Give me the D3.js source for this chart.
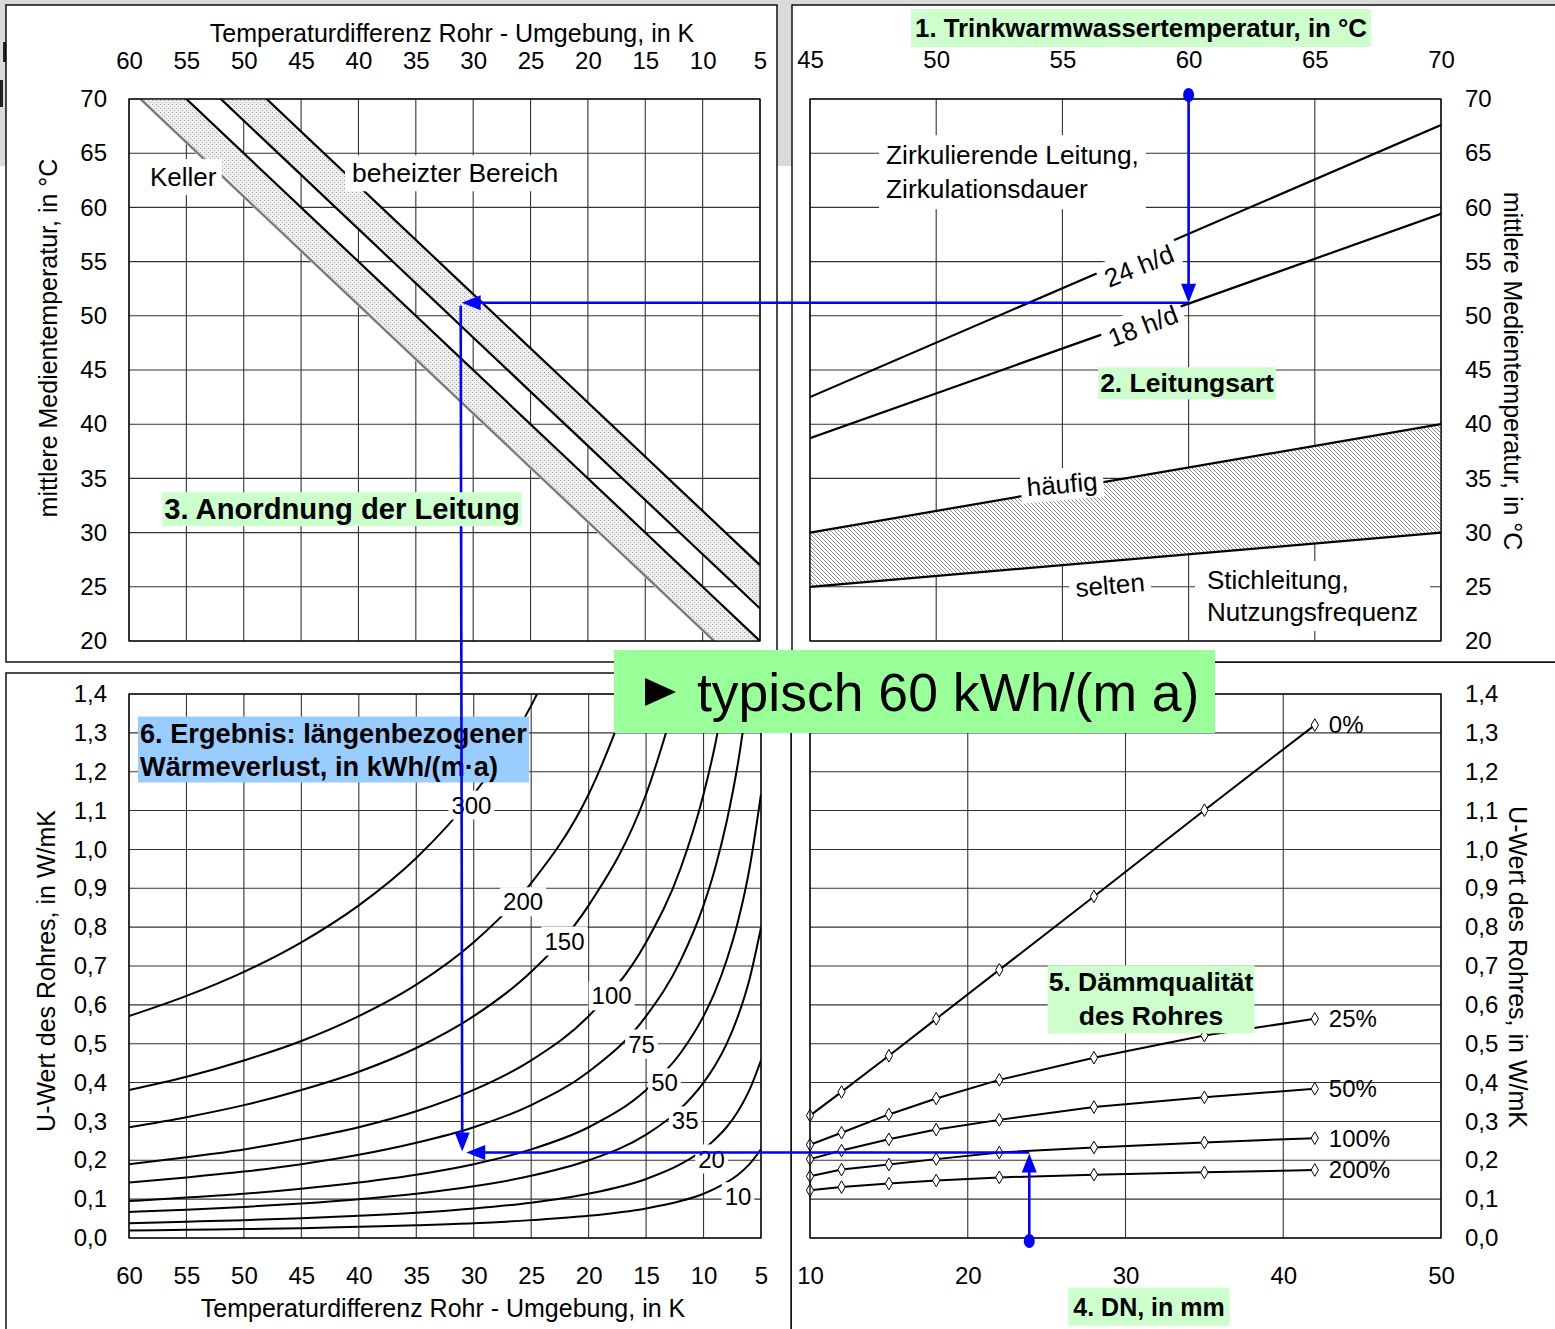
<!DOCTYPE html>
<html>
<head>
<meta charset="utf-8">
<script src="https://cdn.jsdelivr.net/npm/d3@7"></script>
<style>
  html, body { margin: 0; padding: 0; background: #fff; }
  svg { display: block; }
</style>
</head>
<body>
<svg id="chart" width="1555" height="1329"></svg>
<script>
// ---------- axis ticks ----------
const dtTicks = [60, 55, 50, 45, 40, 35, 30, 25, 20, 15, 10, 5];
const tempTicks = [20, 25, 30, 35, 40, 45, 50, 55, 60, 65, 70];
const twwTicks = [45, 50, 55, 60, 65, 70];
const uTicks = [0, 0.1, 0.2, 0.3, 0.4, 0.5, 0.6, 0.7, 0.8, 0.9, 1.0, 1.1, 1.2, 1.3, 1.4];
const dnTicks = [10, 20, 30, 40, 50];

// ---------- 3. Anordnung: lines of constant ambient temperature [ΔT, mean medium temp] ----------
const kellerLow   = [[60, 71], [5, 16]];
const kellerHigh  = [[60, 75], [5, 20]];
const beheiztLow  = [[60, 78], [5, 23]];
const beheiztHigh = [[60, 82], [5, 27]];

// ---------- 2. Leitungsart: [hot water temp, mean medium temp] ----------
const zirk24 = [[45, 42.5], [70, 67.6]];
const zirk18 = [[45, 38.7], [70, 59.4]];
const stichHaeufig = [[45, 30], [70, 40]];
const stichSelten  = [[45, 25], [70, 30]];

// ---------- 6. heat loss curves: U value over ΔT ----------
const lossDT = [60, 55, 50, 45, 40, 35, 30, 25, 20, 15, 12, 10, 9, 8, 7, 6, 5];
const loss300 = [0.571, 0.623, 0.685, 0.761, 0.856, 0.978, 1.142, 1.370, 1.712];
const loss200 = [0.381, 0.415, 0.457, 0.507, 0.571, 0.652, 0.761, 0.913, 1.142, 1.522];
const loss150 = [0.285, 0.311, 0.342, 0.381, 0.428, 0.489, 0.571, 0.685, 0.856, 1.142, 1.427];
const loss100 = [0.190, 0.208, 0.228, 0.254, 0.285, 0.326, 0.381, 0.457, 0.571, 0.761, 0.951, 1.142, 1.268, 1.427];
const loss75  = [0.143, 0.156, 0.171, 0.190, 0.214, 0.245, 0.285, 0.342, 0.428, 0.571, 0.714, 0.856, 0.951, 1.070, 1.223, 1.427];
const loss50  = [0.095, 0.104, 0.114, 0.127, 0.143, 0.163, 0.190, 0.228, 0.285, 0.381, 0.476, 0.571, 0.634, 0.714, 0.815, 0.951, 1.142];
const loss35  = [0.067, 0.073, 0.080, 0.089, 0.100, 0.114, 0.133, 0.160, 0.200, 0.266, 0.333, 0.400, 0.444, 0.499, 0.571, 0.666, 0.799];
const loss20  = [0.038, 0.042, 0.046, 0.051, 0.057, 0.065, 0.076, 0.091, 0.114, 0.152, 0.190, 0.228, 0.254, 0.285, 0.326, 0.381, 0.457];
const loss10  = [0.019, 0.021, 0.023, 0.025, 0.029, 0.033, 0.038, 0.046, 0.057, 0.076, 0.095, 0.114, 0.127, 0.143, 0.163, 0.190, 0.228];
const lossNames = ["300", "200", "150", "100", "75", "50", "35", "20", "10"];
// label anchor of each curve [ΔT, U]
const lossLabelAt = [[30.2, 1.114], [25.7, 0.865], [22.1, 0.764], [18.0, 0.623], [15.4, 0.499],
                     [13.4, 0.399], [11.6, 0.301], [9.3, 0.203], [7.0, 0.106]];

// ---------- 5. insulation quality: U value over DN ----------
const dnValues = [10, 12, 15, 18, 22, 28, 35, 42];
const ins0   = [0.315, 0.376, 0.469, 0.564, 0.690, 0.879, 1.101, 1.320];
const ins25  = [0.240, 0.271, 0.318, 0.359, 0.407, 0.464, 0.521, 0.564];
const ins50  = [0.203, 0.225, 0.254, 0.279, 0.304, 0.337, 0.362, 0.384];
const ins100 = [0.159, 0.176, 0.189, 0.203, 0.220, 0.233, 0.246, 0.257];
const ins200 = [0.123, 0.131, 0.140, 0.148, 0.156, 0.163, 0.169, 0.175];
const insNames = ["0%", "25%", "50%", "100%", "200%"];

// ---------- worked example ----------
const exTww = 60, exTmed = 51.2, exDT = 31, exU = 0.22, exDN = 23.9;

// ================= drawing =================
const FONT = '"Liberation Sans", Arial, Helvetica, sans-serif';
const BLUE = "#0000ff";
const svg = d3.select("#chart").attr("font-family", FONT);

// scales
const xTL = d3.scaleLinear().domain([60, 5]).range([129, 760]);
const yTL = d3.scaleLinear().domain([20, 70]).range([641, 99]);
const xTR = d3.scaleLinear().domain([45, 70]).range([810, 1441]);
const yTR = d3.scaleLinear().domain([20, 70]).range([641, 99]);
const xBL = d3.scaleLinear().domain([60, 5]).range([129, 761]);
const yBL = d3.scaleLinear().domain([0, 1.4]).range([1238, 694]);
const xBR = d3.scaleLinear().domain([10, 50]).range([810, 1441]);
const yBR = d3.scaleLinear().domain([0, 1.4]).range([1238, 694]);

const comma = d => d3.format(".1f")(d).replace(".", ",");

// patterns
const defs = svg.append("defs");
const dots = defs.append("pattern").attr("id", "dots").attr("patternUnits", "userSpaceOnUse")
  .attr("width", 4).attr("height", 4);
dots.append("rect").attr("width", 4).attr("height", 4).attr("fill", "#eeeeee");
dots.append("rect").attr("x", 0).attr("y", 0).attr("width", 1).attr("height", 1).attr("fill", "#9a9a9a");
dots.append("rect").attr("x", 2).attr("y", 2).attr("width", 1).attr("height", 1).attr("fill", "#b0b0b0");
const hatch = defs.append("pattern").attr("id", "hatch").attr("patternUnits", "userSpaceOnUse")
  .attr("width", 4).attr("height", 4);
hatch.append("rect").attr("width", 4).attr("height", 4).attr("fill", "#ffffff");
hatch.append("path").attr("d", "M-1,-1 L5,5 M3,-1 L5,1 M-1,3 L1,5")
  .attr("stroke", "#7a7a7a").attr("stroke-width", 0.85);

function clip(id, x0, y0, x1, y1) {
  defs.append("clipPath").attr("id", id).append("rect")
    .attr("x", x0).attr("y", y0).attr("width", x1 - x0).attr("height", y1 - y0);
}
clip("cTL", 129, 99, 760, 641);
clip("cTR", 810, 99, 1441, 641);
clip("cBL", 129, 694, 761, 1238);
clip("cBR", 810, 694, 1441, 1238);

// background & panels
svg.append("rect").attr("width", 1555).attr("height", 1329).attr("fill", "#ffffff");
svg.append("rect").attr("width", 1555).attr("height", 166).attr("fill", "#dadada");
svg.append("rect").attr("x", 3).attr("y", 42).attr("width", 3).attr("height", 20).attr("fill", "#222");
svg.append("rect").attr("x", 0).attr("y", 80).attr("width", 3).attr("height", 27).attr("fill", "#222");

const panel = (x, y, w, h) => svg.append("rect").attr("x", x).attr("y", y).attr("width", w).attr("height", h)
  .attr("fill", "#fff").attr("stroke", "#000").attr("stroke-width", 1.4);
panel(791, 662, 800, 700);
panel(6, 673, 785, 700);
panel(6, 5, 771, 657);
panel(792, 5, 800, 657);

// plot areas with grids
function plotArea(xs, ys, xt, yt) {
  const [x0, x1] = d3.extent(xs.range()), [y1, y0] = [ys.range()[0], ys.range()[1]];
  const g = svg.append("g");
  g.append("rect").attr("x", x0).attr("y", y0).attr("width", x1 - x0).attr("height", y1 - y0).attr("fill", "#fff");
  g.selectAll(".vg").data(xt).join("line")
    .attr("x1", d => xs(d)).attr("x2", d => xs(d)).attr("y1", y0).attr("y2", y1)
    .attr("stroke", "#333").attr("stroke-width", 1.1);
  g.selectAll(".hg").data(yt).join("line")
    .attr("y1", d => ys(d)).attr("y2", d => ys(d)).attr("x1", x0).attr("x2", x1)
    .attr("stroke", "#333").attr("stroke-width", 1.1);
  return g;
}
plotArea(xTL, yTL, dtTicks, tempTicks);
plotArea(xTR, yTR, twwTicks, tempTicks);
plotArea(xBL, yBL, dtTicks, uTicks);
plotArea(xBR, yBR, dnTicks, uTicks);

// ---- top left: bands of ambient temperature ----
const gTL = svg.append("g").attr("clip-path", "url(#cTL)");
const lineTL = d3.line().x(d => xTL(d[0])).y(d => yTL(d[1]));
const band = (lo, hi) => lo.concat(hi.slice().reverse());
gTL.append("path").attr("d", lineTL(band(kellerLow, kellerHigh)) + "Z").attr("fill", "url(#dots)");
gTL.append("path").attr("d", lineTL(band(beheiztLow, beheiztHigh)) + "Z").attr("fill", "url(#dots)");
gTL.append("path").attr("d", lineTL(kellerLow)).attr("fill", "none").attr("stroke", "#c8c8c8").attr("stroke-width", 3.2);
gTL.append("path").attr("d", lineTL(kellerLow)).attr("fill", "none").attr("stroke", "#6a6a6a").attr("stroke-width", 1.6);
[kellerHigh, beheiztLow, beheiztHigh].forEach(l =>
  gTL.append("path").attr("d", lineTL(l)).attr("fill", "none").attr("stroke", "#000").attr("stroke-width", 2.2));

// ---- top right: line types ----
const gTR = svg.append("g").attr("clip-path", "url(#cTR)");
const lineTR = d3.line().x(d => xTR(d[0])).y(d => yTR(d[1]));
gTR.append("path").attr("d", lineTR(band(stichSelten, stichHaeufig)) + "Z").attr("fill", "url(#hatch)");
[zirk24, zirk18, stichHaeufig, stichSelten].forEach(l =>
  gTR.append("path").attr("d", lineTR(l)).attr("fill", "none").attr("stroke", "#000").attr("stroke-width", 2.2));

// ---- bottom left: heat loss curves ----
const gBL = svg.append("g").attr("clip-path", "url(#cBL)");
const lossSeries = [loss300, loss200, loss150, loss100, loss75, loss50, loss35, loss20, loss10];
const lineBL = d3.line().x(d => xBL(d[0])).y(d => yBL(d[1])).curve(d3.curveMonotoneX);
lossSeries.forEach(s => {
  const pts = s.map((u, i) => [lossDT[i], u]);
  gBL.append("path").attr("d", lineBL(pts)).attr("fill", "none").attr("stroke", "#000").attr("stroke-width", 2);
});

// ---- bottom right: insulation quality ----
const gBR = svg.append("g");
const insSeries = [ins0, ins25, ins50, ins100, ins200];
const lineBR = d3.line().x(d => xBR(d[0])).y(d => yBR(d[1]));
const diamond = d3.symbol().type(d3.symbolDiamond).size(46);
insSeries.forEach((s, k) => {
  const pts = s.map((u, i) => [dnValues[i], u]);
  gBR.append("path").attr("d", lineBR(pts)).attr("fill", "none").attr("stroke", "#000").attr("stroke-width", 2);
  gBR.selectAll(null).data(pts).join("path")
    .attr("transform", d => `translate(${xBR(d[0])},${yBR(d[1])})`)
    .attr("d", diamond).attr("fill", "#fff").attr("stroke", "#000").attr("stroke-width", 1);
  const last = pts[pts.length - 1];
  gBR.append("text").attr("x", xBR(last[0]) + 14).attr("y", yBR(last[1])).attr("dy", "0.35em")
    .attr("font-size", 24).text(insNames[k]);
});

// plot borders
[[xTL, yTL], [xTR, yTR], [xBL, yBL], [xBR, yBR]].forEach(([xs, ys]) => {
  const [x0, x1] = d3.extent(xs.range()), y0 = ys.range()[1], y1 = ys.range()[0];
  svg.append("rect").attr("x", x0).attr("y", y0).attr("width", x1 - x0).attr("height", y1 - y0)
    .attr("fill", "none").attr("stroke", "#000").attr("stroke-width", 1.3);
});

// ---- axes ----
function styleAxis(g) {
  g.attr("font-size", 24).attr("font-family", FONT);
  g.select(".domain").remove();
  g.selectAll(".tick line").remove();
  g.selectAll("text").attr("fill", "#000");
  return g;
}
styleAxis(svg.append("g").attr("transform", "translate(0,99)")
  .call(d3.axisTop(xTL).tickValues(dtTicks).tickSize(0).tickFormat(d3.format("d"))))
  .selectAll("text").attr("y", -38).attr("dy", "0.35em");
styleAxis(svg.append("g").attr("transform", "translate(129,0)")
  .call(d3.axisLeft(yTL).tickValues(tempTicks).tickSize(0).tickPadding(22).tickFormat(d3.format("d"))));
styleAxis(svg.append("g").attr("transform", "translate(0,99)")
  .call(d3.axisTop(xTR).tickValues(twwTicks).tickSize(0).tickFormat(d3.format("d"))))
  .selectAll("text").attr("y", -39).attr("dy", "0.35em");
styleAxis(svg.append("g").attr("transform", "translate(1441,0)")
  .call(d3.axisRight(yTR).tickValues(tempTicks).tickSize(0).tickPadding(24).tickFormat(d3.format("d"))));
styleAxis(svg.append("g").attr("transform", "translate(0,1238)")
  .call(d3.axisBottom(xBL).tickValues(dtTicks).tickSize(0).tickFormat(d3.format("d"))))
  .selectAll("text").attr("y", 38).attr("dy", "0.35em");
styleAxis(svg.append("g").attr("transform", "translate(129,0)")
  .call(d3.axisLeft(yBL).tickValues(uTicks).tickSize(0).tickPadding(22).tickFormat(comma)));
styleAxis(svg.append("g").attr("transform", "translate(0,1238)")
  .call(d3.axisBottom(xBR).tickValues(dnTicks).tickSize(0).tickFormat(d3.format("d"))))
  .selectAll("text").attr("y", 38).attr("dy", "0.35em");
styleAxis(svg.append("g").attr("transform", "translate(1441,0)")
  .call(d3.axisRight(yBR).tickValues(uTicks).tickSize(0).tickPadding(24).tickFormat(comma)));

// axis titles
function title(x, y, str, rot = 0, size = 25) {
  svg.append("text").attr("transform", `translate(${x},${y}) rotate(${rot})`)
    .attr("text-anchor", "middle").attr("dy", "0.35em").attr("font-size", size).text(str);
}
title(452, 33, "Temperaturdifferenz Rohr - Umgebung, in K");
title(48, 338, "mittlere Medientemperatur, in °C", -90);
title(1513, 371, "mittlere Medientemperatur, in °C", 90);
title(443, 1308, "Temperaturdifferenz Rohr - Umgebung, in K");
title(46, 971, "U-Wert des Rohres, in W/mK", -90);
title(1518, 967, "U-Wert des Rohres, in W/mK", 90);

// ---- labels with background boxes ----
function boxed(parent, o) {
  const size = o.size || 26, lh = o.lh || 34, padX = o.padX ?? 5, padY = o.padY ?? 2;
  const g = parent.append("g").attr("transform", `translate(${o.x},${o.y}) rotate(${o.rotate || 0})`);
  const r = g.append("rect").attr("fill", o.fill || "#fff");
  const t = g.append("text").attr("font-size", size).attr("font-weight", o.weight || "normal")
    .attr("text-anchor", o.anchor || "start");
  o.lines.forEach((s, i) => t.append("tspan").attr("x", 0).attr("y", i * lh).attr("dy", "0.35em").text(s));
  const bb = t.node().getBBox();
  r.attr("x", bb.x - padX).attr("y", bb.y - padY).attr("width", bb.width + 2 * padX).attr("height", bb.height + 2 * padY);
  return g;
}
const gLab = svg.append("g");
boxed(gLab, { x: 150, y: 177, lines: ["Keller"], padX: 5, padY: 3 });
boxed(gLab, { x: 352, y: 173, lines: ["beheizter Bereich"], size: 26.5, padX: 7, padY: 3 });
boxed(gLab, { x: 886, y: 155, lines: ["Zirkulierende Leitung,", "Zirkulationsdauer"], size: 26.3, padX: 7, padY: 5 });
boxed(gLab, { x: 1139, y: 266, lines: ["24 h/d"], anchor: "middle", rotate: -22, padX: 6, padY: 2 });
boxed(gLab, { x: 1143, y: 326, lines: ["18 h/d"], anchor: "middle", rotate: -21, padX: 6, padY: 2 });
boxed(gLab, { x: 1062, y: 484, lines: ["häufig"], anchor: "middle", rotate: -5, padX: 6, padY: 1 });
boxed(gLab, { x: 1110, y: 585, lines: ["selten"], anchor: "middle", rotate: -5, padX: 6, padY: 1 });
boxed(gLab, { x: 1207, y: 580, lines: ["Stichleitung,", "Nutzungsfrequenz"], lh: 32, padX: 12, padY: 4 });
boxed(gLab, { x: 1187, y: 383, lines: ["2. Leitungsart"], anchor: "middle", weight: "bold", size: 26.5, fill: "#ccffcc", padX: 2, padY: 1 });
boxed(gLab, { x: 1141, y: 28, lines: ["1. Trinkwarmwassertemperatur, in °C"], anchor: "middle", weight: "bold", size: 25.8, fill: "#ccffcc", padX: 4, padY: 5 });
boxed(gLab, { x: 140, y: 733, lines: ["6. Ergebnis: längenbezogener", "Wärmeverlust, in kWh/(m·a)"], weight: "bold", size: 27.2, lh: 33, fill: "#99ccff", padX: 2, padY: 1 });
boxed(gLab, { x: 1151, y: 982, lines: ["5. Dämmqualität", "des Rohres"], anchor: "middle", weight: "bold", size: 26.5, lh: 34, fill: "#ccffcc", padX: 1, padY: 2 });
boxed(gLab, { x: 1149, y: 1307, lines: ["4. DN, in mm"], anchor: "middle", weight: "bold", size: 25, fill: "#ccffcc", padX: 5, padY: 5 });
lossNames.forEach((n, i) => {
  const [dt, u] = lossLabelAt[i];
  boxed(gLab, { x: xBL(dt), y: yBL(u), lines: [n], anchor: "middle", size: 24, padX: 3, padY: 1 });
});

// ---- worked example arrows ----
const gEx = svg.append("g").attr("stroke", BLUE).attr("fill", BLUE);
function arrow(x1, y1, x2, y2) {
  const len = Math.hypot(x2 - x1, y2 - y1), ux = (x2 - x1) / len, uy = (y2 - y1) / len;
  const hl = 19, hw = 7.5;
  gEx.append("line").attr("x1", x1).attr("y1", y1).attr("x2", x2 - ux * hl * 0.6).attr("y2", y2 - uy * hl * 0.6)
    .attr("stroke-width", 2.6);
  const bx = x2 - ux * hl, by = y2 - uy * hl;
  gEx.append("path").attr("stroke", "none")
    .attr("d", `M${x2},${y2}L${bx - uy * hw},${by + ux * hw}L${bx + uy * hw},${by - ux * hw}Z`);
}
const pTop = [xTR(exTww), 95];
const pTmed = [xTR(exTww), yTR(exTmed)];
const pDT = [xTL(exDT), yTL(exTmed)];
const pU = [xBL(exDT), yBL(exU)];
const pDN = [xBR(exDN), 1241];
const pDNU = [xBR(exDN), yBR(exU)];
gEx.append("ellipse").attr("cx", pTop[0]).attr("cy", pTop[1]).attr("rx", 5.5).attr("ry", 7).attr("stroke", "none");
arrow(pTop[0], pTop[1], pTmed[0], pTmed[1]);
arrow(pTmed[0], pTmed[1], pDT[0], pDT[1]);
arrow(pDT[0] - 1, pDT[1] + 3, pU[0], pU[1] - 1);
gEx.append("ellipse").attr("cx", pDN[0]).attr("cy", pDN[1]).attr("rx", 5.5).attr("ry", 7).attr("stroke", "none");
arrow(pDN[0], pDN[1], pDNU[0], pDNU[1] + 1);
arrow(pDNU[0], pDNU[1], pU[0] + 4, pU[1]);

// labels drawn above the arrows
const gTop = svg.append("g");
boxed(gTop, { x: 342, y: 509, lines: ["3. Anordnung der Leitung"], anchor: "middle", weight: "bold", size: 29.2, fill: "#ccffcc", padX: 2, padY: 1 });
gTop.append("rect").attr("x", 614).attr("y", 650).attr("width", 601).attr("height", 83).attr("fill", "#99ff99");
gTop.append("path").attr("d", "M645,678 L676,692 L645,706 Z").attr("fill", "#000");
gTop.append("text").attr("x", 697).attr("y", 711).attr("font-size", 53.5).text("typisch 60 kWh/(m a)");
</script>
</body>
</html>
